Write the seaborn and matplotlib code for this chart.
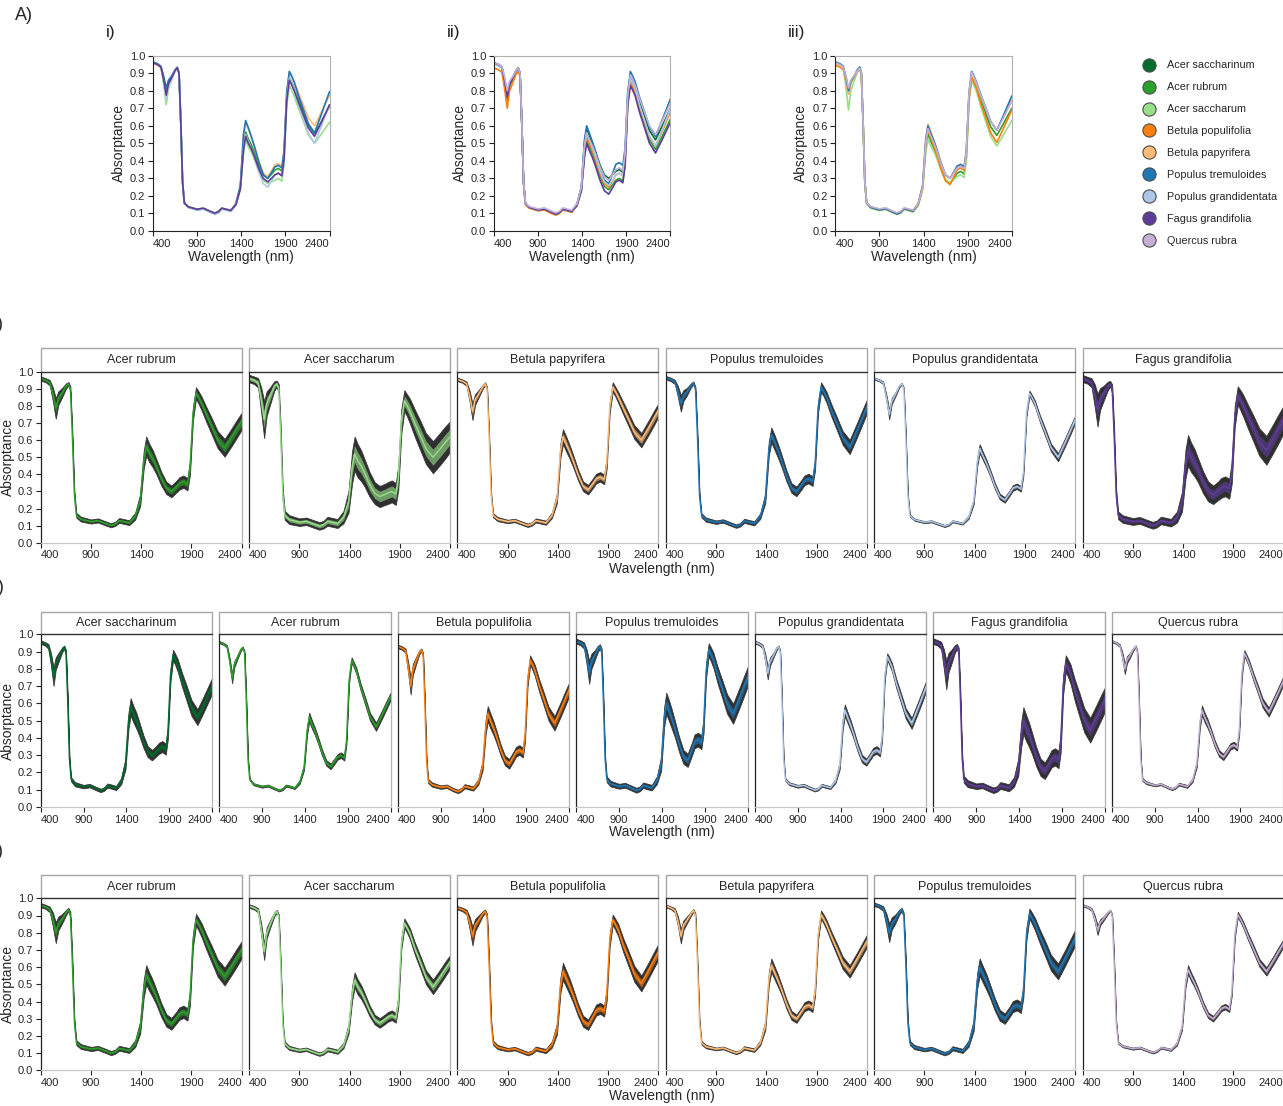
import numpy as np
import pandas as pd
import matplotlib
matplotlib.use("Agg")
import matplotlib.pyplot as plt
from matplotlib.lines import Line2D
from matplotlib.patches import Rectangle
import seaborn as sns

sns.set_theme(style="white")
plt.rcParams["font.family"] = ["Liberation Sans", "DejaVu Sans"]

# ---------------------------------------------------------------- data
WAVELENGTH = [400, 450, 490, 520, 550, 575, 610, 650, 675, 695,
              715, 735, 755, 800, 900, 970, 1050, 1100, 1140, 1180, 1220, 1280, 1340, 1390,
              1425, 1450, 1480, 1515, 1550, 1600, 1650, 1700, 1750, 1780, 1820, 1860, 1885,
              1915, 1945, 1970, 2000, 2050, 2100, 2160, 2230, 2300, 2350, 2400]

SPECIES = ["Acer saccharinum", "Acer rubrum", "Acer saccharum", "Betula populifolia",
           "Betula papyrifera", "Populus tremuloides", "Populus grandidentata",
           "Fagus grandifolia", "Quercus rubra"]
SPECIES_COLORS = ["#006d2c", "#2ca02c", "#98df8a", "#ff7f0e", "#ffbb78",
                  "#1f77b4", "#aec7e8", "#5e3c99", "#c5b0d5"]

X_TICKS = [400, 900, 1400, 1900, 2400]
Y_TICKS = [0.0, 0.1, 0.2, 0.3, 0.4, 0.5, 0.6, 0.7, 0.8, 0.9, 1.0]

# Site i (row B): mean absorptance and standard deviation per species
B_SPECIES = ["Acer rubrum", "Acer saccharum", "Betula papyrifera",
             "Populus tremuloides", "Populus grandidentata", "Fagus grandifolia"]
B_ACER_RUBRUM_MEAN = [0.96, 0.95, 0.935, 0.87, 0.785, 0.845, 0.875, 0.915, 0.93, 0.90,
                      0.62, 0.28, 0.16, 0.138, 0.124, 0.13, 0.112, 0.102, 0.11, 0.13, 0.125, 0.117, 0.155, 0.25,
                      0.485, 0.565, 0.525, 0.491, 0.446, 0.374, 0.32, 0.30, 0.328, 0.347, 0.357, 0.342, 0.437,
                      0.755, 0.875, 0.85, 0.815, 0.747, 0.683, 0.603, 0.555, 0.617, 0.664, 0.71]
B_ACER_SACCHARUM_MEAN = [0.96, 0.95, 0.935, 0.838, 0.72, 0.813, 0.859, 0.915, 0.93, 0.90,
                         0.62, 0.28, 0.16, 0.135, 0.12, 0.125, 0.108, 0.098, 0.105, 0.125, 0.12, 0.112, 0.15, 0.24,
                         0.44, 0.52, 0.48, 0.45, 0.408, 0.34, 0.29, 0.27, 0.282, 0.29, 0.30, 0.285, 0.38,
                         0.71, 0.83, 0.805, 0.77, 0.698, 0.632, 0.55, 0.50, 0.548, 0.584, 0.62]
B_BETULA_PAPYRIFERA_MEAN = [0.955, 0.945, 0.93, 0.86, 0.766, 0.836, 0.87, 0.91, 0.93, 0.90,
                            0.62, 0.28, 0.16, 0.138, 0.124, 0.13, 0.112, 0.102, 0.11, 0.13, 0.125, 0.117, 0.16, 0.26,
                            0.54, 0.62, 0.58, 0.533, 0.48, 0.397, 0.33, 0.31, 0.349, 0.375, 0.385, 0.37, 0.465,
                            0.79, 0.91, 0.885, 0.85, 0.786, 0.724, 0.647, 0.60, 0.67, 0.723, 0.775]
B_POPULUS_TREMULOIDES_MEAN = [0.965, 0.955, 0.94, 0.885, 0.815, 0.86, 0.883, 0.92, 0.935, 0.90,
                              0.62, 0.28, 0.16, 0.135, 0.12, 0.127, 0.108, 0.097, 0.105, 0.128, 0.122, 0.113, 0.155, 0.26,
                              0.55, 0.63, 0.59, 0.538, 0.482, 0.392, 0.32, 0.30, 0.339, 0.365, 0.375, 0.36, 0.455,
                              0.79, 0.91, 0.885, 0.85, 0.77, 0.70, 0.613, 0.56, 0.654, 0.725, 0.795]
B_POPULUS_GRANDIDENTATA_MEAN = [0.96, 0.95, 0.935, 0.853, 0.75, 0.828, 0.866, 0.915, 0.93, 0.90,
                                0.62, 0.28, 0.16, 0.135, 0.12, 0.125, 0.108, 0.098, 0.105, 0.125, 0.12, 0.112, 0.15, 0.24,
                                0.47, 0.55, 0.51, 0.466, 0.415, 0.334, 0.27, 0.25, 0.292, 0.32, 0.33, 0.315, 0.41,
                                0.753, 0.873, 0.848, 0.813, 0.724, 0.649, 0.556, 0.50, 0.588, 0.654, 0.72]
B_FAGUS_GRANDIFOLIA_MEAN = [0.96, 0.95, 0.935, 0.865, 0.775, 0.84, 0.873, 0.915, 0.93, 0.90,
                            0.62, 0.28, 0.16, 0.138, 0.124, 0.13, 0.112, 0.102, 0.11, 0.13, 0.125, 0.117, 0.15, 0.24,
                            0.46, 0.54, 0.50, 0.467, 0.423, 0.353, 0.30, 0.28, 0.304, 0.32, 0.33, 0.315, 0.41,
                            0.74, 0.86, 0.835, 0.80, 0.732, 0.668, 0.588, 0.54, 0.612, 0.666, 0.72]

B_ACER_RUBRUM_SD = [0.006, 0.006, 0.008, 0.02, 0.03, 0.02, 0.014, 0.008, 0.005, 0.008,
                    0.015, 0.01, 0.007, 0.007, 0.006, 0.006, 0.006, 0.006, 0.006, 0.007, 0.007, 0.007, 0.01, 0.018,
                    0.026, 0.028, 0.027, 0.025, 0.022, 0.02, 0.018, 0.017, 0.017, 0.018, 0.018, 0.018, 0.02,
                    0.02, 0.017, 0.018, 0.02, 0.022, 0.024, 0.025, 0.026, 0.026, 0.026, 0.025]
B_ACER_SACCHARUM_SD = [0.011, 0.011, 0.014, 0.036, 0.054, 0.036, 0.025, 0.014, 0.009, 0.014,
                       0.027, 0.018, 0.013, 0.013, 0.011, 0.011, 0.011, 0.011, 0.011, 0.013, 0.013, 0.013, 0.018, 0.032,
                       0.047, 0.05, 0.049, 0.045, 0.04, 0.036, 0.032, 0.031, 0.031, 0.032, 0.032, 0.032, 0.036,
                       0.036, 0.031, 0.032, 0.036, 0.04, 0.043, 0.045, 0.047, 0.047, 0.047, 0.045]
B_BETULA_PAPYRIFERA_SD = [0.005, 0.005, 0.006, 0.016, 0.024, 0.016, 0.011, 0.006, 0.004, 0.006,
                          0.012, 0.008, 0.006, 0.006, 0.005, 0.005, 0.005, 0.005, 0.005, 0.006, 0.006, 0.006, 0.008, 0.014,
                          0.021, 0.022, 0.022, 0.02, 0.018, 0.016, 0.014, 0.014, 0.014, 0.014, 0.014, 0.014, 0.016,
                          0.016, 0.014, 0.014, 0.016, 0.018, 0.019, 0.02, 0.021, 0.021, 0.021, 0.02]
B_POPULUS_TREMULOIDES_SD = [0.005, 0.005, 0.006, 0.016, 0.024, 0.016, 0.011, 0.006, 0.004, 0.006,
                            0.012, 0.008, 0.006, 0.006, 0.005, 0.005, 0.005, 0.005, 0.005, 0.006, 0.006, 0.006, 0.008, 0.014,
                            0.021, 0.022, 0.022, 0.02, 0.018, 0.016, 0.014, 0.014, 0.014, 0.014, 0.014, 0.014, 0.016,
                            0.016, 0.014, 0.014, 0.016, 0.018, 0.019, 0.02, 0.021, 0.021, 0.021, 0.02]
B_POPULUS_GRANDIDENTATA_SD = [0.003, 0.003, 0.004, 0.009, 0.014, 0.009, 0.006, 0.004, 0.002, 0.004,
                              0.007, 0.005, 0.003, 0.003, 0.003, 0.003, 0.003, 0.003, 0.003, 0.003, 0.003, 0.003, 0.005, 0.008,
                              0.012, 0.013, 0.012, 0.011, 0.01, 0.009, 0.008, 0.008, 0.008, 0.008, 0.008, 0.008, 0.009,
                              0.009, 0.008, 0.008, 0.009, 0.01, 0.011, 0.011, 0.012, 0.012, 0.012, 0.011]
B_FAGUS_GRANDIFOLIA_SD = [0.01, 0.01, 0.013, 0.032, 0.048, 0.032, 0.022, 0.013, 0.008, 0.013,
                          0.024, 0.016, 0.011, 0.011, 0.01, 0.01, 0.01, 0.01, 0.01, 0.011, 0.011, 0.011, 0.016, 0.029,
                          0.042, 0.045, 0.043, 0.04, 0.035, 0.032, 0.029, 0.027, 0.027, 0.029, 0.029, 0.029, 0.032,
                          0.032, 0.027, 0.029, 0.032, 0.035, 0.038, 0.04, 0.042, 0.042, 0.042, 0.04]

# Site ii (row C)
C_SPECIES = ["Acer saccharinum", "Acer rubrum", "Betula populifolia", "Populus tremuloides",
             "Populus grandidentata", "Fagus grandifolia", "Quercus rubra"]
C_ACER_SACCHARINUM_MEAN = [0.955, 0.945, 0.93, 0.855, 0.755, 0.83, 0.868, 0.91, 0.925, 0.895,
                           0.62, 0.28, 0.16, 0.132, 0.118, 0.124, 0.106, 0.096, 0.104, 0.124, 0.119, 0.11, 0.15, 0.25,
                           0.50, 0.58, 0.54, 0.502, 0.454, 0.378, 0.32, 0.30, 0.324, 0.34, 0.35, 0.335, 0.43,
                           0.76, 0.88, 0.855, 0.82, 0.736, 0.664, 0.574, 0.52, 0.592, 0.646, 0.70]
C_ACER_RUBRUM_MEAN = [0.955, 0.945, 0.93, 0.85, 0.745, 0.825, 0.865, 0.91, 0.925, 0.895,
                      0.62, 0.28, 0.16, 0.132, 0.118, 0.124, 0.106, 0.096, 0.104, 0.124, 0.119, 0.11, 0.145, 0.23,
                      0.44, 0.52, 0.48, 0.44, 0.392, 0.315, 0.255, 0.235, 0.268, 0.29, 0.30, 0.285, 0.38,
                      0.73, 0.85, 0.825, 0.79, 0.696, 0.619, 0.523, 0.465, 0.535, 0.588, 0.64]
C_BETULA_POPULIFOLIA_MEAN = [0.93, 0.92, 0.905, 0.81, 0.70, 0.795, 0.843, 0.895, 0.91, 0.88,
                             0.61, 0.27, 0.15, 0.13, 0.115, 0.12, 0.10, 0.09, 0.10, 0.12, 0.115, 0.107, 0.145, 0.24,
                             0.46, 0.54, 0.50, 0.459, 0.41, 0.331, 0.27, 0.25, 0.292, 0.32, 0.33, 0.315, 0.41,
                             0.73, 0.85, 0.825, 0.79, 0.704, 0.631, 0.54, 0.485, 0.563, 0.622, 0.68]
C_POPULUS_TREMULOIDES_MEAN = [0.96, 0.95, 0.935, 0.868, 0.78, 0.843, 0.874, 0.915, 0.93, 0.90,
                              0.62, 0.28, 0.16, 0.135, 0.12, 0.126, 0.108, 0.097, 0.105, 0.126, 0.12, 0.112, 0.155, 0.25,
                              0.52, 0.60, 0.56, 0.508, 0.452, 0.362, 0.29, 0.27, 0.336, 0.38, 0.39, 0.375, 0.47,
                              0.79, 0.91, 0.885, 0.85, 0.762, 0.688, 0.596, 0.54, 0.626, 0.69, 0.755]
C_POPULUS_GRANDIDENTATA_MEAN = [0.955, 0.945, 0.93, 0.865, 0.775, 0.84, 0.873, 0.915, 0.93, 0.90,
                                0.62, 0.28, 0.16, 0.135, 0.12, 0.126, 0.108, 0.098, 0.105, 0.126, 0.12, 0.112, 0.15, 0.24,
                                0.48, 0.56, 0.52, 0.476, 0.425, 0.344, 0.28, 0.26, 0.296, 0.32, 0.33, 0.315, 0.41,
                                0.75, 0.87, 0.845, 0.81, 0.716, 0.639, 0.543, 0.485, 0.571, 0.635, 0.70]
C_FAGUS_GRANDIFOLIA_MEAN = [0.96, 0.95, 0.935, 0.86, 0.765, 0.835, 0.87, 0.915, 0.93, 0.90,
                            0.62, 0.28, 0.16, 0.135, 0.12, 0.125, 0.107, 0.097, 0.104, 0.124, 0.12, 0.111, 0.145, 0.23,
                            0.42, 0.50, 0.46, 0.419, 0.37, 0.291, 0.23, 0.21, 0.252, 0.28, 0.29, 0.275, 0.37,
                            0.71, 0.83, 0.805, 0.77, 0.676, 0.599, 0.503, 0.445, 0.515, 0.568, 0.62]
C_QUERCUS_RUBRA_MEAN = [0.96, 0.95, 0.935, 0.878, 0.80, 0.853, 0.879, 0.915, 0.93, 0.90,
                        0.62, 0.28, 0.16, 0.14, 0.126, 0.132, 0.114, 0.104, 0.112, 0.132, 0.127, 0.119, 0.155, 0.25,
                        0.48, 0.56, 0.52, 0.484, 0.439, 0.366, 0.31, 0.29, 0.326, 0.35, 0.36, 0.345, 0.44,
                        0.77, 0.89, 0.865, 0.83, 0.754, 0.686, 0.601, 0.55, 0.622, 0.676, 0.73]

C_ACER_SACCHARINUM_SD = [0.005, 0.005, 0.007, 0.018, 0.027, 0.018, 0.013, 0.007, 0.005, 0.007,
                         0.014, 0.009, 0.006, 0.006, 0.005, 0.005, 0.005, 0.005, 0.005, 0.006, 0.006, 0.006, 0.009, 0.016,
                         0.023, 0.025, 0.024, 0.023, 0.02, 0.018, 0.016, 0.015, 0.015, 0.016, 0.016, 0.016, 0.018,
                         0.018, 0.015, 0.016, 0.018, 0.02, 0.022, 0.023, 0.023, 0.023, 0.023, 0.023]
C_ACER_RUBRUM_SD = [0.003, 0.003, 0.004, 0.009, 0.014, 0.009, 0.006, 0.004, 0.002, 0.004,
                    0.007, 0.005, 0.003, 0.003, 0.003, 0.003, 0.003, 0.003, 0.003, 0.003, 0.003, 0.003, 0.005, 0.008,
                    0.012, 0.013, 0.012, 0.011, 0.01, 0.009, 0.008, 0.008, 0.008, 0.008, 0.008, 0.008, 0.009,
                    0.009, 0.008, 0.008, 0.009, 0.01, 0.011, 0.011, 0.012, 0.012, 0.012, 0.011]
C_BETULA_POPULIFOLIA_SD = [0.005, 0.005, 0.006, 0.016, 0.024, 0.016, 0.011, 0.006, 0.004, 0.006,
                           0.012, 0.008, 0.006, 0.006, 0.005, 0.005, 0.005, 0.005, 0.005, 0.006, 0.006, 0.006, 0.008, 0.014,
                           0.021, 0.022, 0.022, 0.02, 0.018, 0.016, 0.014, 0.014, 0.014, 0.014, 0.014, 0.014, 0.016,
                           0.016, 0.014, 0.014, 0.016, 0.018, 0.019, 0.02, 0.021, 0.021, 0.021, 0.02]
C_POPULUS_TREMULOIDES_SD = [0.007, 0.007, 0.009, 0.022, 0.033, 0.022, 0.015, 0.009, 0.006, 0.009,
                            0.017, 0.011, 0.008, 0.008, 0.007, 0.007, 0.007, 0.007, 0.007, 0.008, 0.008, 0.008, 0.011, 0.02,
                            0.029, 0.031, 0.03, 0.028, 0.024, 0.022, 0.02, 0.019, 0.019, 0.02, 0.02, 0.02, 0.022,
                            0.022, 0.019, 0.02, 0.022, 0.024, 0.026, 0.028, 0.029, 0.029, 0.029, 0.028]
C_POPULUS_GRANDIDENTATA_SD = [0.004, 0.004, 0.005, 0.012, 0.018, 0.012, 0.008, 0.005, 0.003, 0.005,
                              0.009, 0.006, 0.004, 0.004, 0.004, 0.004, 0.004, 0.004, 0.004, 0.004, 0.004, 0.004, 0.006, 0.011,
                              0.016, 0.017, 0.016, 0.015, 0.013, 0.012, 0.011, 0.01, 0.01, 0.011, 0.011, 0.011, 0.012,
                              0.012, 0.01, 0.011, 0.012, 0.013, 0.014, 0.015, 0.016, 0.016, 0.016, 0.015]
C_FAGUS_GRANDIFOLIA_SD = [0.008, 0.008, 0.011, 0.028, 0.042, 0.028, 0.02, 0.011, 0.007, 0.011,
                          0.021, 0.014, 0.01, 0.01, 0.008, 0.008, 0.008, 0.008, 0.008, 0.01, 0.01, 0.01, 0.014, 0.025,
                          0.036, 0.039, 0.038, 0.035, 0.031, 0.028, 0.025, 0.024, 0.024, 0.025, 0.025, 0.025, 0.028,
                          0.028, 0.024, 0.025, 0.028, 0.031, 0.034, 0.035, 0.036, 0.036, 0.036, 0.035]
C_QUERCUS_RUBRA_SD = [0.003, 0.003, 0.004, 0.01, 0.015, 0.01, 0.007, 0.004, 0.003, 0.004,
                      0.008, 0.005, 0.004, 0.004, 0.003, 0.003, 0.003, 0.003, 0.003, 0.004, 0.004, 0.004, 0.005, 0.009,
                      0.013, 0.014, 0.014, 0.013, 0.011, 0.01, 0.009, 0.009, 0.009, 0.009, 0.009, 0.009, 0.01,
                      0.01, 0.009, 0.009, 0.01, 0.011, 0.012, 0.013, 0.013, 0.013, 0.013, 0.013]

# Site iii (row D)
D_SPECIES = ["Acer rubrum", "Acer saccharum", "Betula populifolia", "Betula papyrifera",
             "Populus tremuloides", "Quercus rubra"]
D_ACER_RUBRUM_MEAN = [0.96, 0.95, 0.935, 0.878, 0.80, 0.853, 0.879, 0.915, 0.935, 0.905,
                      0.62, 0.28, 0.16, 0.138, 0.124, 0.13, 0.112, 0.10, 0.108, 0.128, 0.123, 0.115, 0.155, 0.25,
                      0.475, 0.555, 0.515, 0.475, 0.427, 0.35, 0.29, 0.27, 0.306, 0.33, 0.34, 0.325, 0.42,
                      0.755, 0.875, 0.85, 0.815, 0.743, 0.677, 0.595, 0.545, 0.607, 0.654, 0.70]
D_ACER_SACCHARUM_MEAN = [0.955, 0.945, 0.93, 0.823, 0.69, 0.798, 0.851, 0.905, 0.925, 0.895,
                         0.61, 0.27, 0.155, 0.13, 0.116, 0.122, 0.104, 0.094, 0.102, 0.122, 0.117, 0.108, 0.145, 0.24,
                         0.445, 0.525, 0.485, 0.455, 0.413, 0.345, 0.295, 0.275, 0.296, 0.31, 0.32, 0.305, 0.40,
                         0.735, 0.855, 0.83, 0.795, 0.707, 0.633, 0.541, 0.485, 0.543, 0.587, 0.63]
D_BETULA_POPULIFOLIA_MEAN = [0.945, 0.935, 0.92, 0.86, 0.78, 0.843, 0.874, 0.91, 0.925, 0.895,
                             0.62, 0.28, 0.16, 0.135, 0.12, 0.126, 0.108, 0.097, 0.105, 0.126, 0.12, 0.112, 0.15, 0.24,
                             0.495, 0.575, 0.535, 0.488, 0.436, 0.352, 0.285, 0.265, 0.316, 0.35, 0.36, 0.345, 0.44,
                             0.755, 0.875, 0.85, 0.815, 0.727, 0.653, 0.561, 0.505, 0.579, 0.635, 0.69]
D_BETULA_PAPYRIFERA_MEAN = [0.955, 0.945, 0.93, 0.868, 0.78, 0.843, 0.874, 0.91, 0.93, 0.90,
                            0.62, 0.28, 0.16, 0.138, 0.124, 0.13, 0.112, 0.102, 0.11, 0.13, 0.125, 0.117, 0.16, 0.26,
                            0.53, 0.61, 0.57, 0.523, 0.471, 0.387, 0.32, 0.30, 0.342, 0.37, 0.38, 0.365, 0.46,
                            0.785, 0.905, 0.88, 0.845, 0.773, 0.707, 0.625, 0.575, 0.645, 0.698, 0.75]
D_POPULUS_TREMULOIDES_MEAN = [0.965, 0.955, 0.94, 0.878, 0.80, 0.853, 0.879, 0.92, 0.935, 0.90,
                              0.62, 0.28, 0.16, 0.135, 0.12, 0.127, 0.108, 0.097, 0.105, 0.128, 0.122, 0.113, 0.155, 0.26,
                              0.52, 0.60, 0.56, 0.516, 0.465, 0.384, 0.32, 0.30, 0.342, 0.37, 0.38, 0.365, 0.46,
                              0.79, 0.91, 0.885, 0.85, 0.776, 0.709, 0.625, 0.575, 0.653, 0.712, 0.77]
D_QUERCUS_RUBRA_MEAN = [0.96, 0.95, 0.935, 0.885, 0.815, 0.86, 0.883, 0.915, 0.93, 0.90,
                        0.62, 0.28, 0.16, 0.14, 0.126, 0.132, 0.114, 0.104, 0.112, 0.132, 0.127, 0.119, 0.155, 0.25,
                        0.505, 0.585, 0.545, 0.505, 0.457, 0.38, 0.32, 0.30, 0.336, 0.36, 0.37, 0.355, 0.45,
                        0.785, 0.905, 0.88, 0.845, 0.773, 0.707, 0.625, 0.575, 0.641, 0.691, 0.74]

D_ACER_RUBRUM_SD = [0.006, 0.006, 0.008, 0.02, 0.03, 0.02, 0.014, 0.008, 0.005, 0.008,
                    0.015, 0.01, 0.007, 0.007, 0.006, 0.006, 0.006, 0.006, 0.006, 0.007, 0.007, 0.007, 0.01, 0.018,
                    0.026, 0.028, 0.027, 0.025, 0.022, 0.02, 0.018, 0.017, 0.017, 0.018, 0.018, 0.018, 0.02,
                    0.02, 0.017, 0.018, 0.02, 0.022, 0.024, 0.025, 0.026, 0.026, 0.026, 0.025]
D_ACER_SACCHARUM_SD = [0.005, 0.005, 0.006, 0.016, 0.024, 0.016, 0.011, 0.006, 0.004, 0.006,
                       0.012, 0.008, 0.006, 0.006, 0.005, 0.005, 0.005, 0.005, 0.005, 0.006, 0.006, 0.006, 0.008, 0.014,
                       0.021, 0.022, 0.022, 0.02, 0.018, 0.016, 0.014, 0.014, 0.014, 0.014, 0.014, 0.014, 0.016,
                       0.016, 0.014, 0.014, 0.016, 0.018, 0.019, 0.02, 0.021, 0.021, 0.021, 0.02]
D_BETULA_POPULIFOLIA_SD = [0.005, 0.005, 0.007, 0.018, 0.027, 0.018, 0.013, 0.007, 0.005, 0.007,
                           0.014, 0.009, 0.006, 0.006, 0.005, 0.005, 0.005, 0.005, 0.005, 0.006, 0.006, 0.006, 0.009, 0.016,
                           0.023, 0.025, 0.024, 0.023, 0.02, 0.018, 0.016, 0.015, 0.015, 0.016, 0.016, 0.016, 0.018,
                           0.018, 0.015, 0.016, 0.018, 0.02, 0.022, 0.023, 0.023, 0.023, 0.023, 0.023]
D_BETULA_PAPYRIFERA_SD = [0.004, 0.004, 0.006, 0.014, 0.021, 0.014, 0.01, 0.006, 0.004, 0.006,
                          0.011, 0.007, 0.005, 0.005, 0.004, 0.004, 0.004, 0.004, 0.004, 0.005, 0.005, 0.005, 0.007, 0.013,
                          0.018, 0.02, 0.019, 0.018, 0.015, 0.014, 0.013, 0.012, 0.012, 0.013, 0.013, 0.013, 0.014,
                          0.014, 0.012, 0.013, 0.014, 0.015, 0.017, 0.018, 0.018, 0.018, 0.018, 0.018]
D_POPULUS_TREMULOIDES_SD = [0.005, 0.005, 0.007, 0.018, 0.027, 0.018, 0.013, 0.007, 0.005, 0.007,
                            0.014, 0.009, 0.006, 0.006, 0.005, 0.005, 0.005, 0.005, 0.005, 0.006, 0.006, 0.006, 0.009, 0.016,
                            0.023, 0.025, 0.024, 0.023, 0.02, 0.018, 0.016, 0.015, 0.015, 0.016, 0.016, 0.016, 0.018,
                            0.018, 0.015, 0.016, 0.018, 0.02, 0.022, 0.023, 0.023, 0.023, 0.023, 0.023]
D_QUERCUS_RUBRA_SD = [0.003, 0.003, 0.004, 0.009, 0.014, 0.009, 0.006, 0.004, 0.002, 0.004,
                      0.007, 0.005, 0.003, 0.003, 0.003, 0.003, 0.003, 0.003, 0.003, 0.003, 0.003, 0.003, 0.005, 0.008,
                      0.012, 0.013, 0.012, 0.011, 0.01, 0.009, 0.008, 0.008, 0.008, 0.008, 0.008, 0.008, 0.009,
                      0.009, 0.008, 0.008, 0.009, 0.01, 0.011, 0.011, 0.012, 0.012, 0.012, 0.011]

B_MEANS = [B_ACER_RUBRUM_MEAN, B_ACER_SACCHARUM_MEAN, B_BETULA_PAPYRIFERA_MEAN,
           B_POPULUS_TREMULOIDES_MEAN, B_POPULUS_GRANDIDENTATA_MEAN, B_FAGUS_GRANDIFOLIA_MEAN]
B_SDS = [B_ACER_RUBRUM_SD, B_ACER_SACCHARUM_SD, B_BETULA_PAPYRIFERA_SD,
         B_POPULUS_TREMULOIDES_SD, B_POPULUS_GRANDIDENTATA_SD, B_FAGUS_GRANDIFOLIA_SD]
C_MEANS = [C_ACER_SACCHARINUM_MEAN, C_ACER_RUBRUM_MEAN, C_BETULA_POPULIFOLIA_MEAN,
           C_POPULUS_TREMULOIDES_MEAN, C_POPULUS_GRANDIDENTATA_MEAN,
           C_FAGUS_GRANDIFOLIA_MEAN, C_QUERCUS_RUBRA_MEAN]
C_SDS = [C_ACER_SACCHARINUM_SD, C_ACER_RUBRUM_SD, C_BETULA_POPULIFOLIA_SD,
         C_POPULUS_TREMULOIDES_SD, C_POPULUS_GRANDIDENTATA_SD,
         C_FAGUS_GRANDIFOLIA_SD, C_QUERCUS_RUBRA_SD]
D_MEANS = [D_ACER_RUBRUM_MEAN, D_ACER_SACCHARUM_MEAN, D_BETULA_POPULIFOLIA_MEAN,
           D_BETULA_PAPYRIFERA_MEAN, D_POPULUS_TREMULOIDES_MEAN, D_QUERCUS_RUBRA_MEAN]
D_SDS = [D_ACER_RUBRUM_SD, D_ACER_SACCHARUM_SD, D_BETULA_POPULIFOLIA_SD,
         D_BETULA_PAPYRIFERA_SD, D_POPULUS_TREMULOIDES_SD, D_QUERCUS_RUBRA_SD]

for series in B_MEANS + B_SDS + C_MEANS + C_SDS + D_MEANS + D_SDS:
    assert len(series) == len(WAVELENGTH)

COLOR_OF = dict(zip(SPECIES, SPECIES_COLORS))


def site_frame(species, means, sds):
    rows = []
    for sp, m, s in zip(species, means, sds):
        rows.append(pd.DataFrame({"species": sp, "wavelength": WAVELENGTH,
                                  "absorptance": m, "sd": s}))
    return pd.concat(rows, ignore_index=True)


SITES = [site_frame(B_SPECIES, B_MEANS, B_SDS),
         site_frame(C_SPECIES, C_MEANS, C_SDS),
         site_frame(D_SPECIES, D_MEANS, D_SDS)]

# ---------------------------------------------------------------- layout
W, H = 1283, 1106
fig = plt.figure(figsize=(W / 100, H / 100), dpi=100)
fig.patch.set_facecolor("white")
TEXT = "#262626"


def add_axes_px(left, top, width, height):
    return fig.add_axes([left / W, 1 - (top + height) / H, width / W, height / H])


def style_xticks(ax, size):
    ax.set_xlim(400, 2400)
    ax.set_xticks(X_TICKS)
    ax.set_xticklabels([str(t) for t in X_TICKS])
    labels = ax.get_xticklabels()
    labels[0].set_ha("left")
    labels[-1].set_ha("right")
    ax.tick_params(axis="x", bottom=True, direction="out", length=3.5, width=0.8,
                   color="#222222", labelsize=size, pad=2, labelcolor=TEXT)


# Panel A: mean spectra of every species at each site
A_LEFTS = [153, 494, 835.3]
for left, site, tag in zip(A_LEFTS, SITES, ["i)", "ii)", "iii)"]):
    ax = add_axes_px(left, 55.7, 176.5, 175.3)
    order = [s for s in SPECIES if s in set(site["species"])]
    sns.lineplot(data=site, x="wavelength", y="absorptance", hue="species",
                 hue_order=order, palette=COLOR_OF, linewidth=1.2, legend=False,
                 estimator=None, sort=False, ax=ax)
    style_xticks(ax, 8)
    ax.set_ylim(0, 1.0)
    ax.set_yticks(Y_TICKS)
    ax.set_yticklabels([f"{t:.1f}" for t in Y_TICKS])
    ax.tick_params(axis="y", left=True, direction="out", length=3.5, width=0.8,
                   color="#222222", labelsize=8, pad=2, labelcolor=TEXT)
    for side in ["left", "bottom"]:
        ax.spines[side].set_color("#222222")
        ax.spines[side].set_linewidth(0.8)
    for side in ["top", "right"]:
        ax.spines[side].set_color("#b0b0b0")
        ax.spines[side].set_linewidth(0.8)
    ax.set_xlabel("Wavelength (nm)", fontsize=10, color=TEXT, labelpad=1)
    ax.set_ylabel("Absorptance", fontsize=10, color=TEXT, labelpad=3)
    fig.text((left - 47) / W, 1 - 32 / H, tag, fontsize=12.5, color=TEXT,
             ha="left", va="center")

fig.text(15 / W, 1 - 16 / H, "A)", fontsize=13, color=TEXT, ha="left", va="center")

handles = [Line2D([], [], marker="o", linestyle="", markersize=9.5,
                  markerfacecolor=c, markeredgecolor="#4d4d4d", markeredgewidth=0.8)
           for c in SPECIES_COLORS]
fig.legend(handles, SPECIES, loc="upper left", bbox_to_anchor=(1144 / W, 1 - 60.5 / H),
           frameon=False, fontsize=7.8, labelspacing=1.1, handlelength=1.0,
           handletextpad=1.1, borderpad=0, borderaxespad=0, labelcolor=TEXT)


# Rows B-D: one facet per species with +-1 SD and +-2 SD envelopes
def facet_row(site, species, top, height, strip_h, lefts, width, row_tag, tag_y, xlabel_y):
    for i, (sp, left) in enumerate(zip(species, lefts)):
        ax = add_axes_px(left, top, width, height)
        sub = site[site["species"] == sp]
        wl = sub["wavelength"].to_numpy()
        m = sub["absorptance"].to_numpy()
        s = sub["sd"].to_numpy()
        col = COLOR_OF[sp]
        ax.fill_between(wl, m - 2 * s, m + 2 * s, color="#2f2f2f", linewidth=0.6,
                        edgecolor="#3a3a3a")
        ax.fill_between(wl, m - s, m + s, color=col, alpha=0.62, linewidth=0)
        sns.lineplot(data=sub, x="wavelength", y="absorptance", color=col,
                     linewidth=1.0, estimator=None, sort=False, ax=ax)
        style_xticks(ax, 8)
        ax.set_ylim(0, 1.0)
        ax.set_xlabel("")
        ax.spines["left"].set_color("#222222")
        ax.spines["top"].set_color("#333333")
        ax.spines["right"].set_color("#b5b5b5")
        ax.spines["bottom"].set_color("#c8c8c8")
        for side in ax.spines:
            ax.spines[side].set_linewidth(0.9)
        if i == 0:
            ax.set_yticks(Y_TICKS)
            ax.set_yticklabels([f"{t:.1f}" for t in Y_TICKS])
            ax.tick_params(axis="y", left=True, direction="out", length=3.5, width=0.8,
                           color="#222222", labelsize=8, pad=2, labelcolor=TEXT)
            ax.set_ylabel("Absorptance", fontsize=10, color=TEXT, labelpad=2)
        else:
            ax.set_yticks(Y_TICKS)
            ax.set_yticklabels([])
            ax.tick_params(axis="y", left=False)
            ax.set_ylabel("")
        frac = strip_h / height
        ax.add_patch(Rectangle((0, 1), 1, frac, transform=ax.transAxes, clip_on=False,
                               facecolor="white", edgecolor="#a6a6a6", linewidth=1.0,
                               zorder=0.5))
        ax.text(0.5, 1 + frac / 2, sp, transform=ax.transAxes, ha="center",
                va="center", fontsize=9, color=TEXT)
    fig.text(662 / W, 1 - xlabel_y / H, "Wavelength (nm)", fontsize=10, color=TEXT,
             ha="center", va="center")
    fig.text(3.5 / W, 1 - tag_y / H, row_tag, fontsize=13, color=TEXT,
             ha="right", va="center")


B_LEFTS = [40.7 + 208.36 * i for i in range(6)]
C_LEFTS = [40.7 + 178.55 * i for i in range(7)]

facet_row(SITES[0], B_SPECIES, 371.7, 171.0, 23.4, B_LEFTS, 201.0, "B)", 325, 569)
facet_row(SITES[1], C_SPECIES, 634.3, 172.7, 22.0, C_LEFTS, 171.3, "C)", 588, 832)
facet_row(SITES[2], D_SPECIES, 898.3, 172.0, 23.3, B_LEFTS, 201.0, "D)", 852, 1096)

fig.savefig("out.png", dpi=100, facecolor="white")
